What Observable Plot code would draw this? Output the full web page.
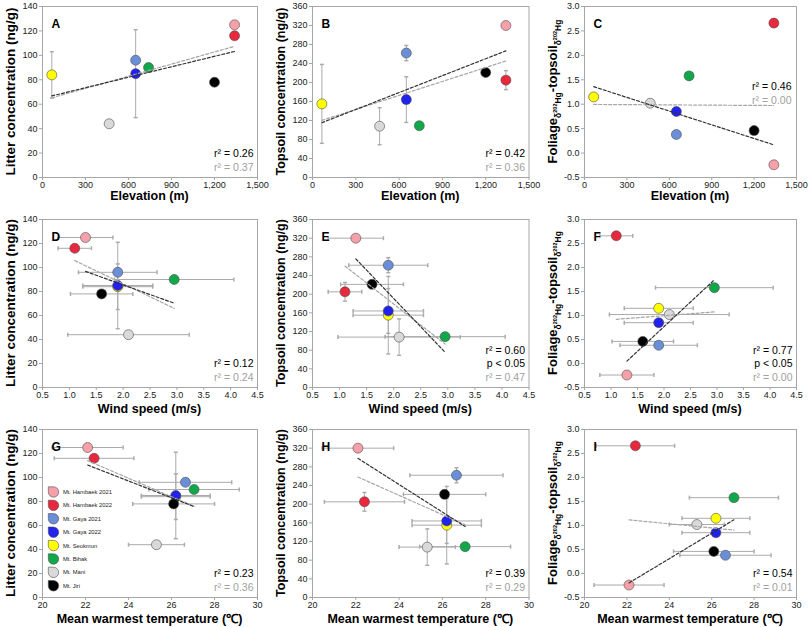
<!DOCTYPE html>
<html><head><meta charset="utf-8">
<script src="https://cdn.jsdelivr.net/npm/d3@7"></script>
<script src="https://cdn.jsdelivr.net/npm/@observablehq/plot@0.6"></script>
<style>
body{margin:0;background:#fff;}
#wrap{position:relative;width:808px;height:627px;overflow:hidden;font-family:Arial,"Liberation Sans",sans-serif;background:#fff;}
#wrap svg{position:absolute;overflow:visible;}
</style></head><body><div id="wrap"></div>
<script>
// ---------------- data ----------------
const sites = ["Mt. Hambaek 2021", "Mt. Hambaek 2022", "Mt. Gaya 2021", "Mt. Gaya 2022", "Mt. Seokmun", "Mt. Bihak", "Mt. Mani", "Mt. Jiri"];
const siteColors = ["#F6A0AA", "#E8283C", "#6A8ED8", "#2222EE", "#FFFF00", "#10A84A", "#D9D9D9", "#000000"];
const inBlackFit = [true, false, true, false, true, true, true, true]; // black dashed fit set; gray = all sites
const drawOrder = [4, 0, 1, 2, 3, 5, 6, 7];

const elevation = [1340, 1340, 650, 650, 65, 740, 465, 1200];
const windSpeed = [1.3, 1.1, 1.9, 1.9, 1.9, 2.95, 2.1, 1.6];
const windSpeedErr = [0.51, 0.31, 0.73, 0.65, 0.65, 1.11, 1.13, 0.58];
const temperature = [22.1, 22.4, 26.65, 26.2, 26.2, 27.05, 25.3, 26.1];
const temperatureErr = [1.65, 1.85, 2.15, 1.6, 1.6, 2.1, 1.3, 1.9];
const litter = [125, 116, 96, 85, 84, 90, 44, 78];
const litterErr = [null, null, null, 36, 19, null, null, null];
const topsoil = [320, 205, 262, 164, 155, 109, 108, 221];
const topsoilErr = [null, 20, 16, 48, 83, null, 39, null];
const foliageMinusTopsoil = [-0.24, 2.66, 0.38, 0.85, 1.15, 1.58, 1.02, 0.46];

const elevationTicks = [0, 300, 600, 900, 1200, 1500];
const windTicks = [0.5, 1.0, 1.5, 2.0, 2.5, 3.0, 3.5, 4.0, 4.5];
const temperatureTicks = [20, 22, 24, 26, 28, 30];
const litterTicks = [0, 20, 40, 60, 80, 100, 120, 140];
const topsoilTicks = [0, 40, 80, 120, 160, 200, 240, 280, 320, 360];
const foliageTicks = [-0.5, 0.0, 0.5, 1.0, 1.5, 2.0, 2.5, 3.0];

const panelLetters = ["A", "B", "C", "D", "E", "F", "G", "H", "I"];
const panelStats = [
  ["r² = 0.26", "r² = 0.37"],
  ["r² = 0.42", "r² = 0.36"],
  ["r² = 0.46", "r² = 0.00"],
  ["r² = 0.12", "r² = 0.24"],
  ["r² = 0.60", "p < 0.05", "r² = 0.47"],
  ["r² = 0.77", "p < 0.05", "r² = 0.00"],
  ["r² = 0.23", "r² = 0.36"],
  ["r² = 0.39", "r² = 0.29"],
  ["r² = 0.54", "r² = 0.01"]
];

// ---------------- layout / style ----------------
const colLeft = [42, 312, 584], colRight = [257, 528.5, 796];
const rowTop = [6, 219, 429], rowBottom = [177, 387, 597];
const xLabelOffset = [23, 26, 26];
const frameColor = "#a6a6a6", errColor = "#ababab", tickText = "#222";
const FONT = "Arial, 'Liberation Sans', sans-serif";

const xVars = [
  {values: elevation, err: null, domain: [0, 1500], ticks: elevationTicks, fmt: d3.format(","), label: "Elevation (m)"},
  {values: windSpeed, err: windSpeedErr, domain: [0.5, 4.5], ticks: windTicks, fmt: d => d.toFixed(1), label: "Wind speed (m/s)"},
  {values: temperature, err: temperatureErr, domain: [20, 30], ticks: temperatureTicks, fmt: d => String(d), label: "Mean warmest temperature (\u2103)"}
];
const yVars = [
  {values: litter, err: litterErr, domain: [0, 140], ticks: litterTicks, fmt: d => String(d), label: "Litter concentration (ng/g)", size: 13.5},
  {values: topsoil, err: topsoilErr, domain: [0, 360], ticks: topsoilTicks, fmt: d => String(d), label: "Topsoil concentration (ng/g)", size: 12.5},
  {values: foliageMinusTopsoil, err: null, domain: [-0.5, 3.0], ticks: foliageTicks, fmt: d => d.toFixed(1), label: null, size: 13}
];

const capV = {draw(ctx) { ctx.moveTo(0, -2); ctx.lineTo(0, 2); }};
const capH = {draw(ctx) { ctx.moveTo(-2, 0); ctx.lineTo(2, 0); }};

const wrap = document.getElementById("wrap");

function makePanel(row, col) {
  const idx = row * 3 + col;
  const xv = xVars[row], yv = yVars[col];
  const plotW = colRight[col] - colLeft[col], plotH = rowBottom[row] - rowTop[row];
  const mL = 50, mR = 10, mT = 8, mB = 36;
  const rows = sites.map((s, i) => ({
    site: s, color: siteColors[i], fit: inBlackFit[i],
    x: xv.values[i], y: yv.values[i],
    xe: xv.err ? xv.err[i] : null, ye: yv.err ? yv.err[i] : null
  }));
  const ordered = drawOrder.map(i => rows[i]);
  const xErr = rows.filter(d => d.xe != null), yErr = rows.filter(d => d.ye != null);
  const stats = panelStats[idx];
  const n = stats.length;
  const statMarks = stats.map((s, i) => {
    const fill = i === n - 1 ? "#a0a0a0" : "#000";
    if (idx === 2) {
      return Plot.text([s], {text: d => d, frameAnchor: "top-right", textAnchor: "end", dx: -5, dy: 75.7 + i * 14, fill, fontSize: 10.5});
    }
    return Plot.text([s], {text: d => d, frameAnchor: "bottom-right", textAnchor: "end", dx: -4, dy: -7 - (n - 1 - i) * 13.5, fill, fontSize: 10.5});
  });
  const marks = [
    Plot.frame({stroke: frameColor}),
    Plot.axisX({ticks: xv.ticks, tickFormat: xv.fmt, tickSize: 3, tickPadding: 1.5, label: null, stroke: frameColor, fill: tickText, fontSize: 9}),
    Plot.axisY({ticks: yv.ticks, tickFormat: yv.fmt, tickSize: 3, tickPadding: 2, label: null, stroke: frameColor, fill: tickText, fontSize: 9}),
    Plot.ruleY(xErr, {y: "y", x1: d => d.x - d.xe, x2: d => d.x + d.xe, stroke: errColor, strokeWidth: 1}),
    Plot.dot(xErr, {x: d => d.x - d.xe, y: "y", symbol: capV, r: 2, stroke: errColor, fill: "none"}),
    Plot.dot(xErr, {x: d => d.x + d.xe, y: "y", symbol: capV, r: 2, stroke: errColor, fill: "none"}),
    Plot.ruleX(yErr, {x: "x", y1: d => d.y - d.ye, y2: d => d.y + d.ye, stroke: errColor, strokeWidth: 1}),
    Plot.dot(yErr, {x: "x", y: d => d.y - d.ye, symbol: capH, r: 2, stroke: errColor, fill: "none"}),
    Plot.dot(yErr, {x: "x", y: d => d.y + d.ye, symbol: capH, r: 2, stroke: errColor, fill: "none"}),
    Plot.dot(ordered, {x: "x", y: "y", r: 5, fill: d => d.color, stroke: "#4d4d4d", strokeWidth: 0.6}),
    Plot.linearRegressionY(rows, {x: "x", y: "y", ci: 0, stroke: "#a6a6a6", strokeWidth: 1.2, strokeDasharray: "3,2"}),
    Plot.linearRegressionY(rows.filter(d => d.fit), {x: "x", y: "y", ci: 0, stroke: "#333", strokeWidth: 1.2, strokeDasharray: "3,2"}),
    Plot.text([panelLetters[idx]], {text: d => d, frameAnchor: "top-left", textAnchor: "start", dx: 9, dy: 12.5, fontSize: 12, fontWeight: "bold", fill: "#000"}),
    ...statMarks
  ];
  const svg = Plot.plot({
    width: plotW + mL + mR, height: plotH + mT + mB,
    marginLeft: mL, marginRight: mR, marginTop: mT, marginBottom: mB,
    x: {domain: xv.domain, label: null},
    y: {domain: yv.domain, label: null},
    color: {type: "identity"},
    style: {fontFamily: FONT, fontSize: "9px", background: "transparent", overflow: "visible"},
    marks
  });
  svg.style.left = (colLeft[col] - mL) + "px";
  svg.style.top = (rowTop[row] - mT) + "px";
  const s = d3.select(svg);
  s.append("text")
    .attr("x", mL + plotW / 2).attr("y", mT + plotH + xLabelOffset[row])
    .attr("text-anchor", "middle").attr("font-size", 12.5).attr("font-weight", "bold")
    .attr("font-family", FONT).attr("fill", "#000").text(xv.label);
  const yl = s.append("text")
    .attr("transform", `translate(${mL - 27},${mT + plotH / 2}) rotate(-90)`)
    .attr("text-anchor", "middle").attr("font-size", yv.size).attr("font-weight", "bold")
    .attr("font-family", FONT).attr("fill", "#000");
  if (yv.label) {
    yl.text(yv.label);
  } else {
    const parts = [["Foliage", 13, 0], ["δ", 8.5, 3.5], ["202", 5.5, -3.5], ["Hg", 8.5, 3.5], ["-topsoil", 13, -3.5], ["δ", 8.5, 3.5], ["202", 5.5, -3.5], ["Hg", 8.5, 3.5]];
    parts.forEach(([t, fs, dy]) => yl.append("tspan").attr("font-size", fs).attr("dy", dy).text(t));
  }
  wrap.appendChild(svg);
}

for (let r = 0; r < 3; r++) for (let c = 0; c < 3; c++) makePanel(r, c);

// legend (inside panel G)
const legendX = 53.5, legendY0 = 492, legendStep = 13.4, mr = 5.2;
const leg = d3.select(wrap).append("svg").attr("width", 808).attr("height", 627)
  .style("left", "0px").style("top", "0px").style("pointer-events", "none");
const items = leg.selectAll("g").data(sites).join("g")
  .attr("transform", (d, i) => `translate(${legendX},${legendY0 + i * legendStep})`);
items.append("path")
  .attr("d", `M${-mr},${-mr}H0A${mr},${mr} 0 0 1 ${mr},0A${mr},${mr} 0 0 1 0,${mr}A${mr},${mr} 0 0 1 ${-mr},0Z`)
  .attr("fill", (d, i) => siteColors[i]).attr("stroke", "#4d4d4d").attr("stroke-width", 0.6);
items.append("text").attr("x", 9.5).attr("y", 0).attr("dy", "0.35em")
  .attr("font-size", 5.8).attr("font-family", FONT).attr("fill", "#222").text(d => d);
</script>
</body></html>
